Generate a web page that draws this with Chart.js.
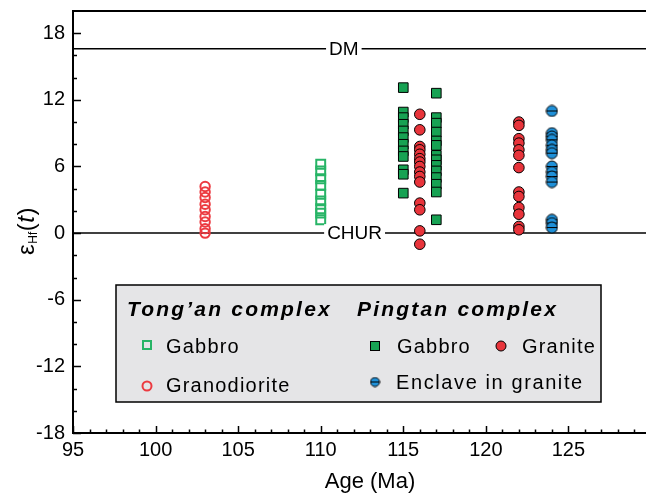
<!DOCTYPE html>
<html>
<head>
<meta charset="utf-8">
<title>εHf(t) vs Age</title>
<script src="https://cdn.jsdelivr.net/npm/chart.js@4.4.1/dist/chart.umd.min.js"></script>
<style>
  html, body { margin: 0; padding: 0; background: #fff; overflow: hidden; }
  #wrap { width: 660px; height: 498px; }
</style>
</head>
<body>
<div id="wrap"><canvas id="miGrafico" width="660" height="498"></canvas></div>
<script>
// Edades (Ma) de cada grupo
const ageTongGranodiorite = 103;
const ageTongGabbro = 110;
const agePingGabbroA = 115;
const agePingGraniteA = 116;
const agePingGabbroB = 117;
const agePingGraniteB = 122;
const ageEnclave = 124;

// Valores de εHf(t)
const tongGranodiorite = [4.2, 3.7, 3.2, 2.6, 2.1, 1.5, 1.0, 0.4, 0.0];
const tongGabbro = [6.2, 5.6, 4.9, 4.3, 3.5, 2.9, 2.2, 1.8, 1.2];
const pingGabbroA = [13.1, 10.9, 10.4, 9.8, 9.2, 8.6, 8.0, 7.4, 6.9, 5.7, 5.3, 3.6];
const pingGraniteA = [10.7, 9.3, 7.8, 7.5, 7.1, 6.7, 6.4, 6.0, 5.5, 5.1, 4.6, 2.7, 2.1, 0.2, -1.0];
const pingGabbroB = [12.6, 10.4, 9.9, 9.1, 8.3, 7.9, 7.0, 6.6, 6.1, 5.6, 5.0, 4.4, 3.7, 1.2];
const pingGraniteB = [10.0, 9.7, 8.5, 8.1, 7.5, 7.0, 5.9, 3.7, 3.3, 2.3, 1.7, 0.6, 0.3];
const enclave = [11.0, 9.0, 8.7, 8.4, 7.9, 7.5, 7.2, 6.0, 5.5, 5.1, 4.6, 1.2, 0.9, 0.5];

// Lineas de referencia
const dmValue = 16.6;
const churValue = 0;
const dmLabelAge = 111.4;
const churLabelAge = 112.05;

// Ejes
const xMin = 95, xMax = 130;
const yMin = -18, yMax = 20;
const xTicks = [95, 100, 105, 110, 115, 120, 125];
const yTicks = [-18, -12, -6, 0, 6, 12, 18];
const xMinorStep = 1;
const yMinorStep = 2;

const FONT = '"Liberation Sans", Arial, Helvetica, sans-serif';
const GREEN = '#17a253';
const GREEN_OPEN = '#27b466';
const RED = '#e8343b';
const RED_OPEN = '#ec3a40';
const BLUE = '#1f90d8';

const pts = (age, vals) => vals.map(v => ({ x: age, y: v }));

// Simbolo del enclave: circulo azul con linea horizontal
function enclaveIcon(r) {
    const s = Math.ceil(2 * r + 2);
    const c = document.createElement('canvas');
    c.width = s; c.height = s;
    const g = c.getContext('2d');
    g.beginPath();
    g.arc(s / 2, s / 2, r, 0, Math.PI * 2);
    g.fillStyle = BLUE;
    g.fill();
    g.lineWidth = 1;
    g.strokeStyle = '#000';
    g.stroke();
    g.beginPath();
    g.moveTo(s / 2 - r, s / 2);
    g.lineTo(s / 2 + r, s / 2);
    g.stroke();
    return c;
}

function drawMarker(ctx, type, x, y) {
    ctx.save();
    if (type === 'openSquare') {
        ctx.strokeStyle = GREEN_OPEN; ctx.lineWidth = 2;
        ctx.strokeRect(x - 4, y - 4, 8, 8);
    } else if (type === 'openCircle') {
        ctx.strokeStyle = RED_OPEN; ctx.lineWidth = 2;
        ctx.beginPath(); ctx.arc(x, y, 4.5, 0, Math.PI * 2); ctx.stroke();
    } else if (type === 'square') {
        ctx.fillStyle = GREEN; ctx.strokeStyle = '#000'; ctx.lineWidth = 1;
        ctx.fillRect(x - 4.5, y - 4.5, 9, 9); ctx.strokeRect(x - 4.5, y - 4.5, 9, 9);
    } else if (type === 'circle') {
        ctx.fillStyle = RED; ctx.strokeStyle = '#000'; ctx.lineWidth = 1;
        ctx.beginPath(); ctx.arc(x, y, 5, 0, Math.PI * 2); ctx.fill(); ctx.stroke();
    } else if (type === 'enclave') {
        const ic = enclaveIcon(4.5);
        ctx.drawImage(ic, x - ic.width / 2, y - ic.height / 2);
    }
    ctx.restore();
}

const decorPlugin = {
    id: 'decor',
    afterDatasetsDraw(chart) {
        const ctx = chart.ctx;
        const xs = chart.scales.x, ys = chart.scales.y;
        ctx.save();
        ctx.font = '19px ' + FONT;
        ctx.textAlign = 'center';
        ctx.textBaseline = 'middle';
        [['DM', dmLabelAge, dmValue], ['CHUR', churLabelAge, churValue]].forEach(([t, ax, v]) => {
            const px = xs.getPixelForValue(ax), py = ys.getPixelForValue(v);
            const w = ctx.measureText(t).width;
            ctx.fillStyle = '#fff';
            ctx.fillRect(px - w / 2 - 3, py - 9, w + 6, 18);
            ctx.fillStyle = '#000';
            ctx.fillText(t, px, py + 1);
        });
        ctx.restore();
    },
    afterDraw(chart) {
        const ctx = chart.ctx;
        const xs = chart.scales.x, ys = chart.scales.y, ca = chart.chartArea;
        ctx.save();
        ctx.strokeStyle = '#000';
        // marco superior
        ctx.lineWidth = 2;
        ctx.beginPath();
        ctx.moveTo(ca.left - 1, ca.top); ctx.lineTo(ca.right + 1, ca.top);
        ctx.moveTo(ca.right, ca.top); ctx.lineTo(ca.right, ca.bottom);
        ctx.stroke();
        // marcas hacia adentro
        ctx.lineWidth = 1.5;
        ctx.beginPath();
        for (let v = xMin; v <= xMax; v += xMinorStep) {
            const px = Math.round(xs.getPixelForValue(v)) + 0.5;
            const len = xTicks.includes(v) ? 7 : 3.5;
            ctx.moveTo(px, ca.bottom); ctx.lineTo(px, ca.bottom - len);
        }
        for (let v = yMin; v <= 18; v += yMinorStep) {
            const py = Math.round(ys.getPixelForValue(v)) + 0.5;
            const len = yTicks.includes(v) ? 8 : 4;
            ctx.moveTo(ca.left, py); ctx.lineTo(ca.left + len, py);
        }
        ctx.stroke();

        // titulo eje X
        ctx.fillStyle = '#000';
        ctx.font = '22px ' + FONT;
        ctx.textAlign = 'center';
        ctx.textBaseline = 'middle';
        ctx.fillText('Age (Ma)', 370, 482);

        // titulo eje Y: εHf(t)
        ctx.save();
        ctx.translate(34, 231);
        ctx.rotate(-Math.PI / 2);
        ctx.textAlign = 'left';
        ctx.textBaseline = 'alphabetic';
        const parts = [
            ['ε', '24px ' + FONT, 0],
            ['Hf', '12px ' + FONT, 3],
            ['(', '24px ' + FONT, 0],
            ['t', 'italic 24px ' + FONT, 0],
            [')', '24px ' + FONT, 0]
        ];
        let total = 0;
        parts.forEach(p => { ctx.font = p[1]; total += ctx.measureText(p[0]).width + 0.5; });
        let cx = -total / 2;
        parts.forEach(p => {
            ctx.font = p[1];
            ctx.fillText(p[0], cx, p[2]);
            cx += ctx.measureText(p[0]).width + 0.5;
        });
        ctx.restore();

        // leyenda
        const L = 116, T = 285, R = 601, B = 402;
        ctx.fillStyle = '#e5e5e7';
        ctx.fillRect(L, T, R - L, B - T);
        ctx.lineWidth = 1.5;
        ctx.strokeRect(L, T, R - L, B - T);
        ctx.fillStyle = '#000';
        ctx.textAlign = 'left';
        ctx.textBaseline = 'alphabetic';
        ctx.font = 'italic bold 21px ' + FONT;
        ctx.letterSpacing = '2.2px';
        ctx.fillText('Tong\u2019an complex', 127, 316);
        ctx.fillText('Pingtan complex', 357, 316);
        ctx.font = '20px ' + FONT;
        ctx.letterSpacing = '1.2px';
        ctx.fillText('Gabbro', 166, 353);
        ctx.fillText('Granodiorite', 166, 392);
        ctx.fillText('Gabbro', 397, 353);
        ctx.fillText('Granite', 522, 353);
        ctx.letterSpacing = '1.6px';
        ctx.fillText('Enclave in granite', 396, 389);
        ctx.letterSpacing = '0px';
        drawMarker(ctx, 'openSquare', 147, 345);
        drawMarker(ctx, 'openCircle', 147, 386);
        drawMarker(ctx, 'square', 375, 346);
        drawMarker(ctx, 'circle', 501, 346);
        drawMarker(ctx, 'enclave', 375, 382);
        ctx.restore();
    }
};

const lineStyle = {
    type: 'line', showLine: true, borderColor: '#000', borderWidth: 1.5,
    pointRadius: 0, fill: false
};

const noScalePad = s => { s.paddingTop = 0; s.paddingBottom = 0; s.paddingLeft = 0; s.paddingRight = 0; };

const ctx = document.getElementById('miGrafico').getContext('2d');
new Chart(ctx, {
    type: 'scatter',
    data: {
        datasets: [
            { label: 'Pingtan granite', data: pts(agePingGraniteA, pingGraniteA).concat(pts(agePingGraniteB, pingGraniteB)),
              pointStyle: 'circle', pointRadius: 5.3, backgroundColor: RED, borderColor: '#000', borderWidth: 1 },
            { label: 'Enclave in granite', data: pts(ageEnclave, enclave),
              pointStyle: enclaveIcon(5.5), pointRadius: 5.5 },
            { label: 'Pingtan gabbro', data: pts(agePingGabbroA, pingGabbroA).concat(pts(agePingGabbroB, pingGabbroB)),
              pointStyle: 'rect', pointRadius: 6.8, backgroundColor: GREEN, borderColor: '#000', borderWidth: 1 },
            { label: 'Tong\u2019an gabbro', data: pts(ageTongGabbro, tongGabbro),
              pointStyle: 'rect', pointRadius: 6.3, backgroundColor: 'rgba(255,255,255,0)', borderColor: GREEN_OPEN, borderWidth: 2 },
            { label: 'Tong\u2019an granodiorite', data: pts(ageTongGranodiorite, tongGranodiorite),
              pointStyle: 'circle', pointRadius: 4.7, backgroundColor: 'rgba(255,255,255,0)', borderColor: RED_OPEN, borderWidth: 2 },
            Object.assign({ label: 'DM', data: [{ x: xMin, y: dmValue }, { x: xMax, y: dmValue }] }, lineStyle),
            Object.assign({ label: 'CHUR', data: [{ x: xMin, y: churValue }, { x: xMax, y: churValue }] }, lineStyle)
        ]
    },
    options: {
        responsive: false,
        animation: false,
        events: [],
        layout: { padding: { left: 0, top: 11, right: 9, bottom: 0 } },
        plugins: { legend: { display: false }, tooltip: { enabled: false } },
        scales: {
            x: {
                type: 'linear', position: 'bottom', min: xMin, max: xMax,
                grid: { display: false, drawTicks: false },
                border: { display: true, color: '#000', width: 2 },
                afterBuildTicks: s => { s.ticks = xTicks.map(v => ({ value: v })); },
                afterFit: s => { s.height = 65; noScalePad(s); },
                ticks: { color: '#000', padding: 5, maxRotation: 0, font: { family: FONT, size: 20 } }
            },
            y: {
                type: 'linear', min: yMin, max: yMax,
                grid: { display: false, drawTicks: false },
                border: { display: true, color: '#000', width: 2 },
                afterBuildTicks: s => { s.ticks = yTicks.map(v => ({ value: v })); },
                afterFit: s => { s.width = 73; noScalePad(s); },
                ticks: { color: '#000', padding: 8, font: { family: FONT, size: 20 } }
            }
        }
    },
    plugins: [decorPlugin]
});
</script>
</body>
</html>
